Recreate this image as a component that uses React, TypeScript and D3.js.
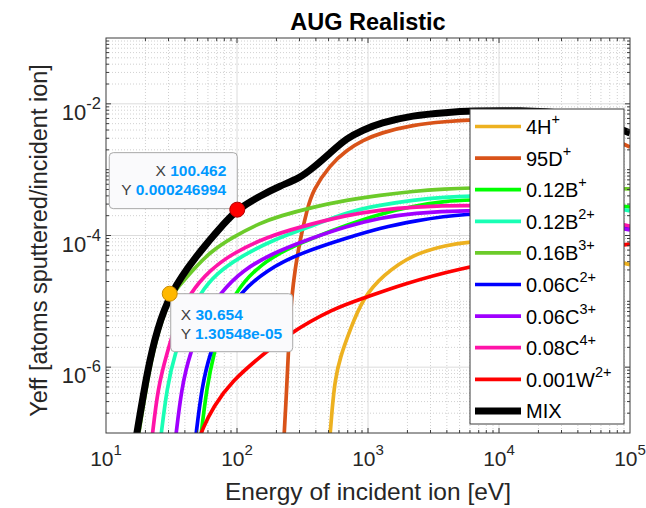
import React from "react";
import * as d3 from "d3";

type Pt = [number, number];

const FONT = "'Liberation Sans', Arial, Helvetica, sans-serif";
const WIDTH = 646;
const HEIGHT = 508;
const frame = { left: 106, right: 630, top: 38, bottom: 433 };

// axis ranges and labelled decades
const xDomain: Pt = [10, 1e5];
const yDomain: Pt = [1e-7, 1e-1];
const xMajorExps = [1, 2, 3, 4, 5];
const yMajorExps = [-2, -4, -6];

const titleText = "AUG Realistic";
const xLabelText = "Energy of incident ion [eV]";
const yLabelText = "Yeff [atoms sputtered/incident ion]";

// effective sputtering yield vs. impact energy, [E (eV), Yeff]
const yieldH: Pt[] = [
  [510, 8e-8], [531, 2.2e-7], [560, 6.4e-7], [612, 1.4e-6], [729, 3.7e-6],
  [916, 1.12e-5], [1300, 2.5e-5], [2200, 5.2e-5], [4000, 7.2e-5], [6000, 8.0e-5],
  [10000, 8.3e-5], [20000, 7.4e-5], [41500, 5.6e-5], [100000, 3.6e-5],
];
const yieldD: Pt[] = [
  [228, 8e-8], [237, 3.2e-7], [243, 9.1e-7], [254, 5.2e-6], [263, 1.25e-5],
  [277, 3.0e-5], [303, 8.6e-5], [342, 2.44e-4], [380, 4.9e-4], [513, 1.18e-3],
  [691, 2.0e-3], [916, 2.8e-3], [1235, 3.6e-3], [2200, 4.8e-3], [4000, 5.4e-3],
  [6000, 5.7e-3], [14500, 6.0e-3], [35000, 4.9e-3], [59000, 3.6e-3], [100000, 2.2e-3],
];
const yieldB1: Pt[] = [
  [52.7, 8e-8], [58.7, 5.0e-7], [66.8, 1.64e-6], [78.2, 5.2e-6], [96.5, 1.34e-5],
  [135, 3.0e-5], [213, 5.6e-5], [380, 9.2e-5], [691, 1.44e-4], [1235, 2.12e-4],
  [2200, 2.8e-4], [4000, 3.34e-4], [5700, 3.46e-4], [14500, 3.58e-4], [41500, 3.23e-4],
  [100000, 2.71e-4],
];
const yieldB2: Pt[] = [
  [26.1, 8e-8], [29.2, 5.0e-7], [33.6, 1.64e-6], [41.5, 5.2e-6], [52.2, 1.34e-5],
  [70.4, 2.69e-5], [105, 4.7e-5], [188, 8.6e-5], [342, 1.3e-4], [691, 2.28e-4],
  [1235, 2.9e-4], [2200, 3.46e-4], [4000, 3.85e-4], [5700, 3.98e-4], [14500, 3.98e-4],
  [41500, 3.34e-4], [100000, 2.36e-4],
];
const yieldB3: Pt[] = [
  [17.5, 8e-8], [21.5, 1.0e-6], [25.2, 3.67e-6], [31.3, 1.25e-5], [36.7, 1.77e-5],
  [46.1, 2.99e-5], [62.2, 5.61e-5], [93.2, 9.5e-5], [150, 1.55e-4], [213, 1.98e-4],
  [380, 2.71e-4], [691, 3.46e-4], [1235, 4.1e-4], [2200, 4.7e-4], [4000, 5.1e-4],
  [5700, 5.26e-4], [14500, 5.45e-4], [41500, 5.26e-4], [100000, 5.1e-4],
];
const yieldC2: Pt[] = [
  [48.2, 8e-8], [53.8, 5.0e-7], [62.2, 1.64e-6], [78.2, 5.2e-6], [105, 1.34e-5],
  [169, 3.0e-5], [303, 5.4e-5], [691, 9.2e-5], [1235, 1.3e-4], [2200, 1.66e-4],
  [5700, 2.2e-4], [14500, 2.12e-4], [41500, 1.72e-4], [100000, 1.3e-4],
];
const yieldC3: Pt[] = [
  [33.9, 8e-8], [37.8, 5.0e-7], [43.8, 1.64e-6], [55.0, 5.2e-6], [74.2, 1.34e-5],
  [111, 3.0e-5], [188, 5.4e-5], [342, 8.6e-5], [691, 1.39e-4], [1235, 1.85e-4],
  [2200, 2.2e-4], [5700, 2.44e-4], [14500, 2.28e-4], [41500, 1.72e-4], [100000, 1.21e-4],
];
const yieldC4: Pt[] = [
  [22.4, 8e-8], [24.9, 5.0e-7], [29.2, 1.64e-6], [34.8, 5.2e-6], [43.8, 1.34e-5],
  [62.2, 3.0e-5], [93.2, 5.4e-5], [169, 9.5e-5], [303, 1.35e-4], [691, 2.05e-4],
  [1235, 2.44e-4], [2200, 2.71e-4], [5700, 2.9e-4], [14500, 2.71e-4], [41500, 2.05e-4],
  [100000, 1.39e-4],
];
const yieldW2: Pt[] = [
  [51.3, 8e-8], [54.1, 1.1e-7], [65.6, 2.5e-7], [93.2, 6.4e-7], [150, 1.43e-6],
  [241, 3.1e-6], [541, 7.8e-6], [983, 1.16e-5], [1755, 1.77e-5], [5040, 3.2e-5],
  [14500, 4.55e-5], [41500, 6.0e-5], [100000, 7.4e-5],
];
const yieldMix: Pt[] = [
  [16.9, 8e-8], [20.9, 1.0e-6], [24.5, 3.67e-6], [30.654, 1.30548e-5], [47.8, 4.71e-5],
  [83.9, 1.72e-4], [100.462, 2.46994e-4], [150, 4.0e-4], [213, 5.65e-4], [303, 7.5e-4],
  [380, 1.06e-3], [513, 1.79e-3], [691, 3.03e-3], [916, 4.0e-3], [1235, 5.1e-3],
  [2200, 6.7e-3], [4000, 7.4e-3], [6000, 7.8e-3], [14500, 8.0e-3], [35000, 7.2e-3],
  [59000, 5.6e-3], [100000, 3.6e-3],
];

// legend text: [base, superscript]
const seriesLabels: [string, string][] = [
  ["4H", "+"], ["95D", "+"], ["0.12B", "+"], ["0.12B", "2+"], ["0.16B", "3+"],
  ["0.06C", "2+"], ["0.06C", "3+"], ["0.08C", "4+"], ["0.001W", "2+"], ["MIX", ""],
];
const seriesData: Pt[][] = [
  yieldH, yieldD, yieldB1, yieldB2, yieldB3, yieldC2, yieldC3, yieldC4, yieldW2, yieldMix,
];
const seriesColors = [
  "#EDB120", "#D95319", "#00FF00", "#19FFB5", "#6CCB2A",
  "#0000FF", "#A000FF", "#FF14A8", "#FF0000", "#000000",
];

// data tips on the MIX curve
const tipPoints: Pt[] = [[100.462, 0.000246994], [30.654, 1.30548e-5]];

const fmtTip = (v: number) => {
  if (v !== 0 && Math.abs(v) < 1e-4) {
    return v.toExponential(5).replace(/e([+-])(\d)$/, "e$10$2");
  }
  return String(v);
};

export default function App() {
  const x = d3.scaleLog().domain(xDomain).range([frame.left, frame.right]);
  const y = d3.scaleLog().domain(yDomain).range([frame.bottom, frame.top]);
  const line = d3
    .line<Pt>()
    .x((d) => x(d[0]))
    .y((d) => y(d[1]))
    .curve(d3.curveBasis);

  const xMinor: number[] = [];
  for (let k = 1; k <= 4; k++) for (let m = 2; m <= 9; m++) xMinor.push(m * 10 ** k);
  const yMinor: number[] = [];
  for (let k = -7; k <= -2; k++) {
    for (let m = 1; m <= 9; m++) {
      if (m === 1 && (k === -7 || yMajorExps.includes(k))) continue;
      yMinor.push(m * 10 ** k);
    }
  }
  const xMajorInner = xMajorExps.slice(1, -1).map((e) => 10 ** e);
  const yMajor = yMajorExps.map((e) => 10 ** e);

  const axisColor = "#3c3c3c";
  const textColor = "#262626";
  const majorLen = 5;
  const minorLen = 3;

  const legend = { x: 470, y: 109, w: 154, h: 315, row0: 126.5, step: 31.6 };

  const [tipA, tipB] = tipPoints.map(([e, v]) => ({ px: x(e), py: y(v), e, v }));

  return (
    <svg
      width={WIDTH}
      height={HEIGHT}
      style={{ position: "absolute", left: 0, top: 0, display: "block" }}
      fontFamily={FONT}
    >
      <defs>
        <clipPath id="plotArea">
          <rect x={frame.left} y={frame.top} width={frame.right - frame.left} height={frame.bottom - frame.top} />
        </clipPath>
      </defs>
      <rect width={WIDTH} height={HEIGHT} fill="#ffffff" />

      {/* grid */}
      <g>
        {xMinor.map((v) => (
          <line key={"xm" + v} x1={x(v)} x2={x(v)} y1={frame.top} y2={frame.bottom}
            stroke="#c4c4c4" strokeWidth={0.8} strokeDasharray="1 2" />
        ))}
        {yMinor.map((v) => (
          <line key={"ym" + v} x1={frame.left} x2={frame.right} y1={y(v)} y2={y(v)}
            stroke="#c4c4c4" strokeWidth={0.8} strokeDasharray="1 2" />
        ))}
        {xMajorInner.map((v) => (
          <line key={"xM" + v} x1={x(v)} x2={x(v)} y1={frame.top} y2={frame.bottom}
            stroke="#dcdcdc" strokeWidth={1} />
        ))}
        {yMajor.map((v) => (
          <line key={"yM" + v} x1={frame.left} x2={frame.right} y1={y(v)} y2={y(v)}
            stroke="#dcdcdc" strokeWidth={1} />
        ))}
      </g>

      {/* curves */}
      <g clipPath="url(#plotArea)" fill="none" strokeLinejoin="round">
        {seriesData.map((d, i) => (
          <path key={i} d={line(d) ?? ""} stroke={seriesColors[i]}
            strokeWidth={i === seriesData.length - 1 ? 7 : 3.7} />
        ))}
      </g>

      {/* axes box and ticks */}
      <g stroke={axisColor} strokeWidth={1}>
        <rect x={frame.left} y={frame.top} width={frame.right - frame.left}
          height={frame.bottom - frame.top} fill="none" />
        {xMinor.map((v) => (
          <g key={"xt" + v}>
            <line x1={x(v)} x2={x(v)} y1={frame.bottom} y2={frame.bottom - minorLen} />
            <line x1={x(v)} x2={x(v)} y1={frame.top} y2={frame.top + minorLen} />
          </g>
        ))}
        {xMajorInner.map((v) => (
          <g key={"xT" + v}>
            <line x1={x(v)} x2={x(v)} y1={frame.bottom} y2={frame.bottom - majorLen} />
            <line x1={x(v)} x2={x(v)} y1={frame.top} y2={frame.top + majorLen} />
          </g>
        ))}
        {yMinor.map((v) => (
          <g key={"yt" + v}>
            <line x1={frame.left} x2={frame.left + minorLen} y1={y(v)} y2={y(v)} />
            <line x1={frame.right} x2={frame.right - minorLen} y1={y(v)} y2={y(v)} />
          </g>
        ))}
        {yMajor.map((v) => (
          <g key={"yT" + v}>
            <line x1={frame.left} x2={frame.left + majorLen} y1={y(v)} y2={y(v)} />
            <line x1={frame.right} x2={frame.right - majorLen} y1={y(v)} y2={y(v)} />
          </g>
        ))}
      </g>

      {/* tick labels */}
      <g fill={textColor}>
        {xMajorExps.map((e) => (
          <text key={"xl" + e} x={x(10 ** e)} y={frame.bottom + 33} textAnchor="middle" fontSize={21}>
            10<tspan fontSize={15} dy={-11}>{e}</tspan>
          </text>
        ))}
        {yMajorExps.map((e) => (
          <text key={"yl" + e} x={frame.left - 5} y={y(10 ** e) + 16} textAnchor="end" fontSize={22}>
            10<tspan fontSize={16.5} dy={-11}>{e}</tspan>
          </text>
        ))}
      </g>

      {/* titles */}
      <text x={(frame.left + frame.right) / 2} y={30} textAnchor="middle" fontSize={23.5}
        fontWeight="bold" fill="#000000">{titleText}</text>
      <text x={(frame.left + frame.right) / 2} y={500} textAnchor="middle" fontSize={24.5}
        fill={textColor}>{xLabelText}</text>
      <text transform={`translate(47, ${(frame.top + frame.bottom) / 2 + 5}) rotate(-90)`}
        textAnchor="middle" fontSize={23.5} fill={textColor}>{yLabelText}</text>

      {/* legend */}
      <g>
        <rect x={legend.x} y={legend.y} width={legend.w} height={legend.h} fill="#ffffff"
          stroke={axisColor} strokeWidth={1} />
        {seriesLabels.map(([base, sup], i) => {
          const ry = legend.row0 + i * legend.step;
          const isMix = i === seriesLabels.length - 1;
          return (
            <g key={"lg" + i}>
              <line x1={legend.x + 5} x2={legend.x + 51} y1={ry} y2={ry}
                stroke={seriesColors[i]} strokeWidth={isMix ? 7 : 3.7} />
              <text x={legend.x + 56} y={ry + 7.5} fontSize={20} fill="#000000">
                {base}
                {sup && <tspan fontSize={14.5} dy={-10}>{sup}</tspan>}
              </text>
            </g>
          );
        })}
      </g>

      {/* data tip at E ≈ 100 eV */}
      <g>
        <rect x={tipA.px - 128} y={tipA.py - 57} width={128} height={56} rx={4}
          fill="#fafafc" stroke="#a8a8a8" strokeWidth={1} />
        <text x={tipA.px - 11} y={tipA.py - 34} textAnchor="end" fontSize={15.5}>
          <tspan fill="#404040">X </tspan>
          <tspan fill="#0099FF" fontWeight="bold">{fmtTip(tipA.e)}</tspan>
        </text>
        <text x={tipA.px - 11} y={tipA.py - 15} textAnchor="end" fontSize={15.5}>
          <tspan fill="#404040">Y </tspan>
          <tspan fill="#0099FF" fontWeight="bold">{fmtTip(tipA.v)}</tspan>
        </text>
        <circle cx={tipA.px} cy={tipA.py} r={7.5} fill="#FF0000" stroke="#B00000" strokeWidth={1} />
      </g>

      {/* data tip at E ≈ 30 eV */}
      <g>
        <rect x={tipB.px + 1} y={tipB.py} width={122} height={58} rx={4}
          fill="#fafafc" stroke="#a8a8a8" strokeWidth={1} />
        <text x={tipB.px + 11} y={tipB.py + 26} fontSize={15.5}>
          <tspan fill="#404040">X </tspan>
          <tspan fill="#0099FF" fontWeight="bold">{fmtTip(tipB.e)}</tspan>
        </text>
        <text x={tipB.px + 11} y={tipB.py + 45} fontSize={15.5}>
          <tspan fill="#404040">Y </tspan>
          <tspan fill="#0099FF" fontWeight="bold">{fmtTip(tipB.v)}</tspan>
        </text>
        <circle cx={tipB.px} cy={tipB.py} r={7.5} fill="#FFB800" stroke="#C88A00" strokeWidth={1} />
      </g>
    </svg>
  );
}
